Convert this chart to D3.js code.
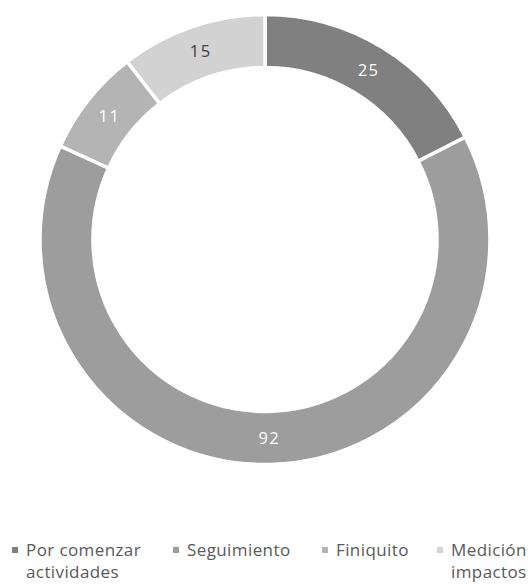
<!DOCTYPE html>
<html>
<head>
<meta charset="utf-8">
<script src="https://cdn.jsdelivr.net/npm/d3@7"></script>
<style>
  body { margin: 0; background: #fff; }
  svg { display: block; }
</style>
</head>
<body>
<svg id="chart" width="532" height="584"></svg>
<script>
const categories = ["Por comenzar actividades", "Seguimiento", "Finiquito", "Medición de impactos"];
const values = [25, 92, 11, 15];
const colors = ["#808080", "#9d9d9d", "#b4b4b4", "#d2d2d2"];
const labelColors = ["#ffffff", "#ffffff", "#ffffff", "#404040"];
const legendLines = [["Por comenzar", "actividades"], ["Seguimiento"], ["Finiquito"], ["Medición", "impactos"]];

const svg = d3.select("#chart");
const cx = 265, cy = 239.5, rOuter = 225, rInner = 172;
const font = "'Open Sans', 'Noto Sans', sans-serif";

const pie = d3.pie().sort(null).value(d => d)(values);
const arc = d3.arc().innerRadius(rInner).outerRadius(rOuter);
const g = svg.append("g").attr("transform", `translate(${cx},${cy})`);

g.selectAll("path").data(pie).join("path")
  .attr("d", arc)
  .attr("fill", (d, i) => colors[i])
  .attr("stroke", "#fff")
  .attr("stroke-width", 3.5)
  .attr("stroke-linejoin", "miter");

const labelArc = d3.arc().innerRadius((rInner + rOuter) / 2).outerRadius((rInner + rOuter) / 2);
g.selectAll("text.lbl").data(pie).join("text")
  .attr("class", "lbl")
  .attr("transform", d => `translate(${labelArc.centroid(d)})`)
  .attr("text-anchor", "middle")
  .attr("dy", "0.35em")
  .attr("font-family", font)
  .attr("font-size", 16.5)
  .attr("letter-spacing", 1.5)
  .attr("fill", (d, i) => labelColors[i])
  .text(d => d.data);

// Legend
const legendX = d3.scaleOrdinal().domain(categories).range([12, 173, 322, 437]);
const leg = svg.append("g");
categories.forEach((c, i) => {
  const x = legendX(c);
  leg.append("rect")
    .attr("x", x).attr("y", 547)
    .attr("width", 6).attr("height", 6)
    .attr("fill", colors[i]);
  const t = leg.append("text")
    .attr("x", x + 14).attr("y", 556)
    .attr("font-family", font)
    .attr("font-size", 17)
    .attr("letter-spacing", 0.4)
    .attr("fill", "#595959");
  legendLines[i].forEach((line, j) => {
    t.append("tspan").attr("x", x + 14).attr("dy", j === 0 ? 0 : 22).text(line);
  });
});
</script>
</body>
</html>
